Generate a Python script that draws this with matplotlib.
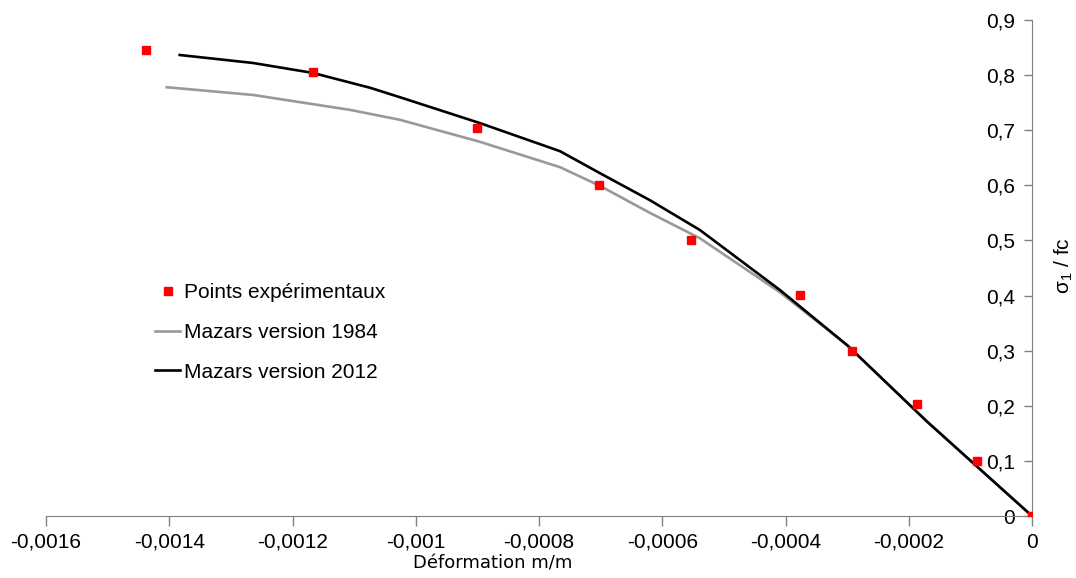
import matplotlib
matplotlib.use("Agg")
import matplotlib.pyplot as plt

plt.rcParams['font.family'] = ['Liberation Sans', 'DejaVu Sans']

# experimental points (strain, sigma1/fc)
exp_x = [-0.001438, -0.001167, -0.000901, -0.000703, -0.000553,
         -0.000376, -0.000292, -0.000187, -0.0000893, 0.0]
exp_y = [0.846, 0.806, 0.704, 0.601, 0.501, 0.401, 0.299, 0.203, 0.100, 0.0]

# Mazars 1984 curve
m84_x = [-0.001404, -0.001264, -0.001107, -0.001026, -0.000896, -0.000766,
         -0.000701, -0.000620, -0.000539, -0.000409, -0.000300, -0.000170, 0.0]
m84_y = [0.778, 0.764, 0.737, 0.719, 0.679, 0.633,
         0.599, 0.550, 0.504, 0.406, 0.310, 0.171, 0.0]

# Mazars 2012 curve
m12_x = [-0.001383, -0.001264, -0.001167, -0.001074, -0.001026, -0.000896,
         -0.000766, -0.000701, -0.000620, -0.000539, -0.000409, -0.000300,
         -0.000170, 0.0]
m12_y = [0.8365, 0.822, 0.804, 0.777, 0.760, 0.713,
         0.662, 0.622, 0.573, 0.519, 0.410, 0.310, 0.171, 0.0]

xticks = [-0.0016, -0.0014, -0.0012, -0.001, -0.0008, -0.0006, -0.0004, -0.0002, 0.0]
xtick_labels = ["-0,0016", "-0,0014", "-0,0012", "-0,001", "-0,0008",
                "-0,0006", "-0,0004", "-0,0002", "0"]
yticks = [0.0, 0.1, 0.2, 0.3, 0.4, 0.5, 0.6, 0.7, 0.8, 0.9]
ytick_labels = ["0", "0,1", "0,2", "0,3", "0,4", "0,5", "0,6", "0,7", "0,8", "0,9"]

W, H = 1076, 578
fig = plt.figure(figsize=(W / 100, H / 100), dpi=100)
ax = fig.add_axes([46 / W, (H - 516) / H, (1032 - 46) / W, (516 - 20) / H])

ax.plot(m84_x, m84_y, color='#999999', lw=1.9, label='Mazars version 1984', zorder=2)
ax.plot(m12_x, m12_y, color='black', lw=1.9, label='Mazars version 2012', zorder=3)
ax.plot(exp_x, exp_y, ls='none', marker='s', ms=6, color='#ff0000',
        label='Points expérimentaux', zorder=4)

ax.set_xlim(-0.0016, 0)
ax.set_ylim(0, 0.9)

# y axis sits at x = 0 (right edge), labels on its left
for s in ['top', 'right']:
    ax.spines[s].set_visible(False)
ax.spines['left'].set_position(('axes', 1.0))
axis_col = '#808080'
ax.spines['left'].set_color(axis_col)
ax.spines['bottom'].set_color(axis_col)

ax.set_xticks(xticks)
ax.set_xticklabels(xtick_labels)
ax.set_yticks(yticks)
ax.set_yticklabels(ytick_labels)
ax.tick_params(axis='x', direction='out', length=7, width=1, color=axis_col,
               labelsize=15, pad=5)
ax.tick_params(axis='y', direction='out', length=6, width=1, color=axis_col,
               labelsize=15, pad=6)

ax.set_xlabel('Déformation m/m', family='DejaVu Sans', fontsize=13)
ax.xaxis.set_label_coords((493 - 46) / 986, -0.077)
ax.xaxis.label.set_va('top')

fig.text(1064 / W, 1 - 266 / H, r'$\mathregular{\sigma_1}$ / fc', rotation=90,
         ha='center', va='center', fontsize=15)

h, l = ax.get_legend_handles_labels()
order = [2, 0, 1]
ax.legend([h[i] for i in order], [l[i] for i in order],
          loc='upper left', bbox_to_anchor=(155 / W, 1 - 283 / H),
          bbox_transform=fig.transFigure, frameon=False, fontsize=15,
          handlelength=1.2, handletextpad=0.2, labelspacing=1.0,
          borderpad=0, borderaxespad=0, numpoints=1)

fig.savefig('out.png', dpi=100)
